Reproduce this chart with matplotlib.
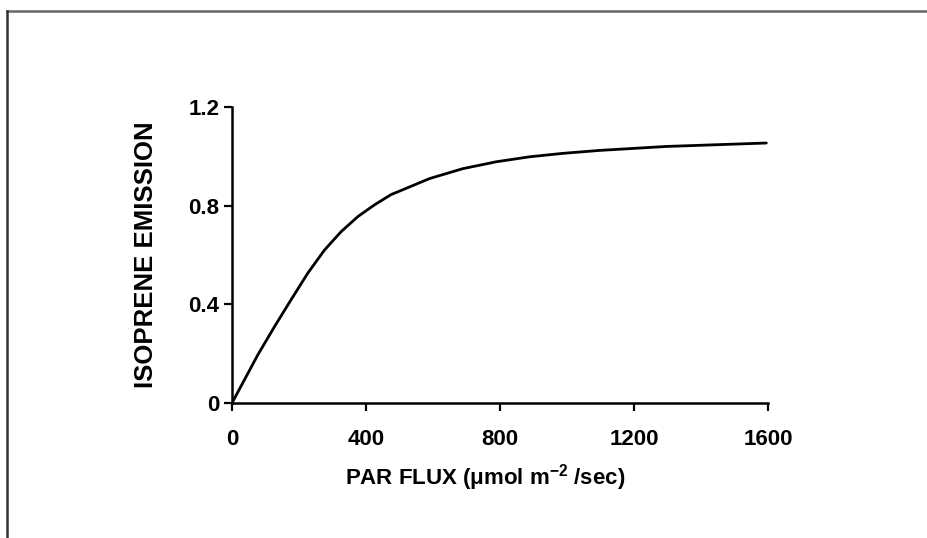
import numpy as np
import matplotlib
matplotlib.use("Agg")
import matplotlib.pyplot as plt
from matplotlib.lines import Line2D

plt.rcParams['font.family'] = ['Liberation Sans', 'DejaVu Sans']
plt.rcParams['font.weight'] = 'bold'
plt.rcParams['mathtext.fontset'] = 'custom'
plt.rcParams['mathtext.bf'] = 'Liberation Sans:bold'
plt.rcParams['mathtext.rm'] = 'Liberation Sans:bold'
plt.rcParams['mathtext.default'] = 'bf'

# valeurs
par_flux = [0, 77, 127, 177, 226, 276, 326, 376, 425, 475, 500, 590,
            689, 789, 888, 987, 1097, 1296, 1595]
emission = [0.0, 0.195, 0.31, 0.42, 0.526, 0.62, 0.695, 0.756, 0.803,
            0.845, 0.859, 0.91, 0.95, 0.978, 0.998, 1.012, 1.024,
            1.040, 1.054]

x_ticks = [0, 400, 800, 1200, 1600]
y_ticks = [0, 0.4, 0.8, 1.2]
y_tick_labels = ['0', '0.4', '0.8', '1.2']

fig = plt.figure(figsize=(9.28, 5.38), dpi=100)
ax = fig.add_axes([232 / 928, 1 - 403 / 538, 536 / 928, 296 / 538])

ax.plot(par_flux, emission, color='black', linewidth=2.0,
        solid_capstyle='round', solid_joinstyle='round')

ax.set_xlim(0, 1600)
ax.set_ylim(0, 1.2)
ax.set_xticks(x_ticks)
ax.set_yticks(y_ticks)
ax.set_yticklabels(y_tick_labels)

for side in ['top', 'right']:
    ax.spines[side].set_visible(False)
for side in ['left', 'bottom']:
    ax.spines[side].set_linewidth(1.8)
    ax.spines[side].set_color('black')

ax.tick_params(axis='both', direction='out', length=6, width=1.6, colors='black',
               labelsize=16)
ax.tick_params(axis='x', pad=13)
ax.tick_params(axis='y', pad=3)
for lbl in ax.get_xticklabels() + ax.get_yticklabels():
    lbl.set_fontweight('bold')

ax.set_xlabel('PAR FLUX (μmol m$^{-2}$ /sec)', fontsize=16, fontweight='bold')
ax.set_ylabel('ISOPRENE EMISSION', fontsize=18.5, fontweight='bold')
ax.xaxis.set_label_coords((485 - 232) / 536, -(462 - 403) / 296)
ax.yaxis.set_label_coords(-(232 - 158) / 536, 0.5)

# cadre gris en haut et à gauche
fig.add_artist(Line2D([7 / 928, 1.0], [1 - 11 / 538, 1 - 11 / 538],
                      transform=fig.transFigure, color='#666666', linewidth=1.8))
fig.add_artist(Line2D([7 / 928, 7 / 928], [0.0, 1 - 11 / 538],
                      transform=fig.transFigure, color='#333333', linewidth=1.8))

fig.savefig('out.png', dpi=100)
